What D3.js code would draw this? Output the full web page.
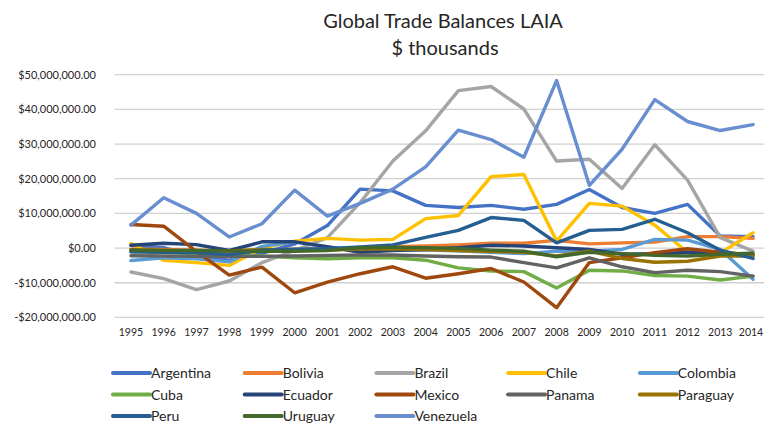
<!DOCTYPE html>
<html>
<head>
<meta charset="utf-8">
<script src="https://cdn.jsdelivr.net/npm/d3@7"></script>
<style>
  body { margin: 0; background: #fff; }
  text { font-family: Lato, "Open Sans", sans-serif; fill: #262626; }
</style>
</head>
<body>
<div id="chart"></div>
<script>
// years on the x axis
var years = ["1995","1996","1997","1998","1999","2000","2001","2002","2003","2004",
             "2005","2006","2007","2008","2009","2010","2011","2012","2013","2014"];

// trade balances, in millions of the chart unit ($ thousands)
var argentina = [0.8, 0.1, -2.5, -3.5, -1.5, 1.2, 6.5, 17.0, 16.5, 12.3, 11.7, 12.3, 11.2, 12.6, 16.9, 11.7, 10.0, 12.6, 3.5, 3.3];
var bolivia   = [-0.3, -0.4, -0.6, -0.9, -0.6, -0.3, -0.2, -0.1, 0.4, 0.6, 0.9, 1.4, 1.4, 2.2, 1.2, 1.5, 1.7, 3.3, 3.3, 2.8];
var brazil    = [-6.9, -8.8, -12.0, -9.5, -4.2, -0.7, 3.0, 13.1, 25.1, 33.8, 45.4, 46.6, 40.1, 25.1, 25.6, 17.2, 29.8, 19.6, 3.0, -0.9];
var chile     = [1.3, -3.5, -4.2, -5.0, 0.0, 2.0, 2.8, 2.3, 2.5, 8.5, 9.4, 20.6, 21.2, 2.0, 12.9, 12.1, 6.6, -1.3, -1.4, 4.4];
var colombia  = [-3.6, -2.8, -3.1, -4.0, 0.5, 1.8, 0.2, -0.3, -0.5, -0.6, -0.8, -1.2, -1.6, -0.9, -0.9, -0.4, 2.5, 2.3, -0.4, -9.0];
var cuba      = [-1.0, -1.2, -1.6, -2.0, -2.3, -2.8, -3.1, -2.8, -2.8, -3.5, -5.7, -6.6, -6.8, -11.5, -6.4, -6.6, -7.9, -8.1, -9.2, -8.1];
var ecuador   = [0.8, 1.4, 1.0, -0.7, 1.8, 1.8, 0.4, -1.2, -0.7, -0.4, 0.1, 0.8, 0.6, 0.1, -0.4, -1.8, -1.6, -1.2, -1.3, -2.0];
var mexico    = [6.8, 6.3, -1.0, -7.8, -5.5, -12.9, -9.8, -7.4, -5.4, -8.7, -7.4, -5.9, -9.8, -17.2, -4.2, -2.8, -1.3, -0.2, -1.2, -2.0];
var panama    = [-2.2, -2.3, -2.4, -2.4, -2.4, -2.3, -2.1, -2.0, -2.0, -2.3, -2.5, -2.6, -4.2, -5.7, -2.8, -5.4, -7.1, -6.4, -6.8, -8.1];
var paraguay  = [-0.5, -0.7, -0.9, -0.8, -0.4, -0.6, -0.6, -0.3, -0.2, -0.4, -0.7, -1.0, -1.2, -2.3, -0.9, -3.0, -4.1, -3.8, -2.3, -2.3];
var peru      = [-1.1, -1.2, -1.3, -1.9, -0.6, -0.3, -0.2, 0.3, 0.9, 3.1, 5.1, 8.8, 8.0, 1.5, 5.1, 5.4, 8.3, 4.4, -0.6, -3.0];
var uruguay   = [-0.6, -0.7, -0.7, -0.8, -0.9, -0.9, -0.7, 0.1, 0.2, 0.1, -0.1, -0.6, -0.9, -2.5, -1.2, -1.6, -2.1, -2.3, -1.8, -1.5];
var venezuela = [6.6, 14.5, 10.0, 3.2, 7.0, 16.7, 9.2, 12.9, 17.0, 23.4, 34.0, 31.3, 26.2, 48.3, 18.1, 28.5, 42.8, 36.5, 33.9, 35.6];

var names  = ["Argentina","Bolivia","Brazil","Chile","Colombia","Cuba","Ecuador","Mexico","Panama","Paraguay","Peru","Uruguay","Venezuela"];
var values = [argentina, bolivia, brazil, chile, colombia, cuba, ecuador, mexico, panama, paraguay, peru, uruguay, venezuela];
var colors = ["#4472c4","#ed7d31","#a5a5a5","#ffc000","#5b9bd5","#70ad47","#264478","#9e480e","#636363","#997300","#255e91","#43682b","#698ed0"];

var yTicks = [-20, -10, 0, 10, 20, 30, 40, 50];

var width = 764, height = 434;

var svg = d3.select("#chart").append("svg")
    .attr("width", width)
    .attr("height", height);

// plot area runs past the right edge, as in the original
var x = d3.scaleBand()
    .domain(years)
    .range([114.6, 769.4]);

var y = d3.scaleLinear()
    .domain([-20, 50])
    .range([317.4, 74.7]);

var money = d3.format(",.2f");
function fmt(v){
  var n = v * 1e6;
  return (n < 0 ? "-$" : "$") + money(Math.abs(n));
}

// title
svg.append("text")
    .attr("x", 443).attr("y", 28)
    .attr("text-anchor", "middle")
    .style("font-size", "20px")
    .text("Global Trade Balances LAIA");
svg.append("text")
    .attr("x", 445).attr("y", 55)
    .attr("text-anchor", "middle")
    .style("font-size", "20px")
    .text("$ thousands");

// gridlines
svg.append("g")
  .selectAll("line")
  .data(yTicks)
  .enter().append("line")
    .attr("x1", x.range()[0])
    .attr("x2", x.range()[1])
    .attr("y1", function(d){ return y(d); })
    .attr("y2", function(d){ return y(d); })
    .attr("stroke", "#d0d0d0")
    .attr("stroke-width", 1.3);

// y axis labels
var gy = svg.append("g")
    .attr("transform", "translate(103,0)")
    .call(d3.axisLeft(y).tickValues(yTicks).tickFormat(fmt).tickSize(0).tickPadding(7));
gy.select(".domain").remove();
gy.selectAll("text").style("font-size", "11px").attr("fill", "#262626");

// x axis labels
var gx = svg.append("g")
    .attr("transform", "translate(0,325)")
    .call(d3.axisBottom(x).tickSize(0).tickPadding(4));
gx.select(".domain").remove();
gx.selectAll("text").style("font-size", "10.5px").attr("fill", "#262626");
// keep the last year inside the window
gx.selectAll("text").filter(function(d){ return d == "2014"; }).attr("dx", "-2");

// lines
var line = d3.line()
    .x(function(d, i){ return x(years[i]) + x.bandwidth() / 2; })
    .y(function(d){ return y(d); });

svg.append("g")
  .selectAll("path")
  .data(values)
  .enter().append("path")
    .attr("d", line)
    .attr("fill", "none")
    .attr("stroke", function(d, i){ return colors[i]; })
    .attr("stroke-width", 3.4)
    .attr("stroke-linejoin", "round")
    .attr("stroke-linecap", "round");

// legend, five columns
var legend = svg.append("g")
  .selectAll("g")
  .data(names)
  .enter().append("g")
    .attr("transform", function(d, i){
      return "translate(" + (113 + (i % 5) * 131.7) + "," + (373 + Math.floor(i / 5) * 21.5) + ")";
    });

legend.append("line")
    .attr("x1", 0).attr("x2", 37)
    .attr("stroke", function(d, i){ return colors[i]; })
    .attr("stroke-width", 4)
    .attr("stroke-linecap", "round");

legend.append("text")
    .attr("x", 38).attr("y", 5)
    .style("font-size", "14px")
    .text(function(d){ return d; });
</script>
</body>
</html>
